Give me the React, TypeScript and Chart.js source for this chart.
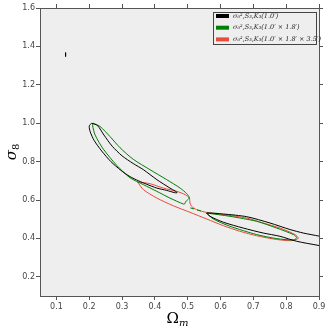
import React, { useEffect, useRef } from 'react';
import { Chart, registerables } from 'chart.js';

Chart.register(...registerables);

// Axis ranges and tick labels
const xMin = 0.05;
const xMax = 0.9;
const yMin = 0.1;
const yMax = 1.6;
const xTicks = [0.1, 0.2, 0.3, 0.4, 0.5, 0.6, 0.7, 0.8, 0.9];
const yTicks = [0.2, 0.4, 0.6, 0.8, 1.0, 1.2, 1.4, 1.6];

// Legend labels
const legendLabels = [
  'σ₀²,S₃,K₃(1.0′)',
  'σ₀²,S₃,K₃(1.0′ × 1.8′)',
  'σ₀²,S₃,K₃(1.0′ × 1.8′ × 3.5′)',
];
const legendColors = ['#000000', '#008000', '#e74c3c'];

// Black contour (1.0') — upper lobe
const blackLobe1Om = [0.207, 0.200, 0.203, 0.215, 0.238, 0.266, 0.296, 0.324, 0.350, 0.375, 0.406, 0.436, 0.461, 0.468, 0.462, 0.446, 0.406, 0.365, 0.334, 0.300, 0.270, 0.245, 0.225, 0.207];
const blackLobe1S8 = [1.000, 0.985, 0.955, 0.910, 0.855, 0.800, 0.755, 0.722, 0.700, 0.682, 0.662, 0.650, 0.638, 0.638, 0.646, 0.662, 0.706, 0.758, 0.790, 0.830, 0.880, 0.938, 0.988, 1.000];
// Black contour — lower lobe (open at the right edge)
const blackLobe2Om = [0.900, 0.852, 0.812, 0.751, 0.680, 0.609, 0.558, 0.568, 0.609, 0.669, 0.730, 0.781, 0.832, 0.900];
const blackLobe2S8 = [0.412, 0.428, 0.446, 0.480, 0.513, 0.527, 0.532, 0.515, 0.484, 0.454, 0.428, 0.411, 0.385, 0.363];
// Black contour — small island
const blackIslandOm = [0.1275, 0.1285, 0.1285, 0.1275, 0.1275];
const blackIslandS8 = [1.347, 1.347, 1.368, 1.368, 1.347];

// Green contour (1.0' x 1.8') — upper lobe
const greenLobe1Om = [0.212, 0.233, 0.263, 0.294, 0.334, 0.385, 0.436, 0.477, 0.497, 0.505, 0.498, 0.493, 0.492, 0.487, 0.446, 0.406, 0.365, 0.324, 0.284, 0.243, 0.218, 0.210, 0.212];
const greenLobe1S8 = [1.000, 0.983, 0.931, 0.872, 0.812, 0.758, 0.706, 0.662, 0.633, 0.612, 0.598, 0.590, 0.582, 0.579, 0.610, 0.645, 0.680, 0.716, 0.780, 0.865, 0.938, 0.990, 1.000];
// Green contour — thin neck
const greenNeckOm = [0.508, 0.545];
const greenNeckS8 = [0.559, 0.540];
// Green contour — lower lobe
const greenLobe2Om = [0.558, 0.629, 0.710, 0.771, 0.822, 0.832, 0.822, 0.771, 0.710, 0.629, 0.578, 0.558];
const greenLobe2S8 = [0.532, 0.515, 0.489, 0.454, 0.420, 0.404, 0.392, 0.399, 0.420, 0.463, 0.501, 0.532];

// Red contour (1.0' x 1.8' x 3.5')
const redOm = [0.347, 0.385, 0.426, 0.467, 0.492, 0.505, 0.507, 0.512, 0.527, 0.558, 0.609, 0.680, 0.730, 0.781, 0.827, 0.837, 0.812, 0.761, 0.710, 0.659, 0.609, 0.558, 0.507, 0.456, 0.406, 0.365, 0.347];
const redS8 = [0.694, 0.685, 0.662, 0.645, 0.628, 0.610, 0.584, 0.567, 0.550, 0.535, 0.524, 0.506, 0.480, 0.454, 0.420, 0.400, 0.388, 0.397, 0.414, 0.437, 0.466, 0.501, 0.536, 0.570, 0.610, 0.654, 0.694];

const pts = (xs: number[], ys: number[]) => xs.map((x, i) => ({ x, y: ys[i] }));

export default function App() {
  const ref = useRef<HTMLCanvasElement>(null);

  useEffect(() => {
    if (!ref.current) return;
    const line = (xs: number[], ys: number[], color: string, extra: any = {}) => ({
      data: pts(xs, ys),
      borderColor: color,
      backgroundColor: color,
      borderWidth: 1,
      pointRadius: 0,
      showLine: true,
      fill: false,
      tension: 0.25,
      ...extra,
    });

    const bgPlugin = {
      id: 'bg',
      beforeDraw(chart: any) {
        const { ctx, chartArea: a } = chart;
        ctx.save();
        ctx.fillStyle = '#eeeeee';
        ctx.fillRect(a.left, a.top, a.right - a.left, a.bottom - a.top);
        ctx.restore();
      },
    };

    const decoPlugin = {
      id: 'deco',
      afterDraw(chart: any) {
        const { ctx, chartArea: a } = chart;
        ctx.save();
        // x title: Omega_m
        ctx.fillStyle = '#000';
        ctx.textBaseline = 'alphabetic';
        ctx.font = '15px "DejaVu Serif"';
        const wO = ctx.measureText('Ω').width;
        ctx.font = 'italic 10px "DejaVu Serif"';
        const wm = ctx.measureText('m').width;
        const cx = (a.left + a.right) / 2 - 2;
        const x0 = cx - (wO + wm) / 2;
        ctx.font = '15px "DejaVu Serif"';
        ctx.fillText('Ω', x0, 323);
        ctx.font = 'italic 10px "DejaVu Serif"';
        ctx.fillText('m', x0 + wO, 326);

        // y title: sigma_8
        ctx.save();
        const cy = (a.top + a.bottom) / 2;
        ctx.translate(16, cy);
        ctx.rotate(-Math.PI / 2);
        ctx.font = 'italic 15px "DejaVu Serif"';
        const ws = ctx.measureText('σ').width;
        ctx.font = '10px "DejaVu Serif"';
        const w8 = ctx.measureText('8').width;
        const y0 = -(ws + w8) / 2;
        ctx.font = 'italic 15px "DejaVu Serif"';
        ctx.fillText('σ', y0, 0);
        ctx.font = '10px "DejaVu Serif"';
        ctx.fillText('8', y0 + ws, 3);
        ctx.restore();

        // legend
        const lx = 213.5, ly = 12.5, lw = 103, lh = 32;
        ctx.fillStyle = '#eeeeee';
        ctx.fillRect(lx, ly, lw, lh);
        ctx.strokeStyle = '#444';
        ctx.lineWidth = 1;
        ctx.strokeRect(lx, ly, lw, lh);
        legendLabels.forEach((lab, i) => {
          const ry = 16 + i * 11.7;
          ctx.fillStyle = legendColors[i];
          ctx.fillRect(216, ry - 2, 13, 4);
          ctx.fillStyle = '#222';
          ctx.font = 'italic 6.5px "DejaVu Serif"';
          ctx.textBaseline = 'middle';
          ctx.fillText(lab, 233, ry);
        });
        ctx.restore();
      },
    };

    const gridOpts = { drawOnChartArea: false, drawTicks: true, tickLength: 4, color: '#555' };
    const borderOpts = { display: true, color: '#555', width: 1 };
    const tickFont = { family: 'DejaVu Sans', size: 8 };

    const chart = new Chart(ref.current, {
      type: 'scatter',
      data: {
        datasets: [
          line(blackLobe1Om, blackLobe1S8, '#000000'),
          line(blackLobe2Om, blackLobe2S8, '#000000'),
          line(blackIslandOm, blackIslandS8, '#000000', { tension: 0 }),
          line(greenLobe1Om, greenLobe1S8, '#008000'),
          line(greenNeckOm, greenNeckS8, '#008000', { borderDash: [4, 3], tension: 0 }),
          line(greenLobe2Om, greenLobe2S8, '#008000'),
          line(redOm, redS8, '#e74c3c'),
        ] as any,
      },
      options: {
        animation: false,
        responsive: false,
        maintainAspectRatio: false,
        layout: { padding: 0 },
        plugins: { legend: { display: false }, tooltip: { enabled: false } },
        scales: {
          x: {
            type: 'linear', position: 'bottom', min: xMin, max: xMax,
            afterBuildTicks: (s: any) => { s.ticks = xTicks.map((v) => ({ value: v })); },
            afterFit: (s: any) => { s.height = 37; },
            ticks: { callback: (v: any) => Number(v).toFixed(1), color: '#444', font: tickFont, padding: 2, maxRotation: 0, autoSkip: false },
            grid: gridOpts, border: borderOpts,
          },
          x2: {
            type: 'linear', position: 'top', min: xMin, max: xMax,
            afterBuildTicks: (s: any) => { s.ticks = xTicks.map((v) => ({ value: v })); },
            afterFit: (s: any) => { s.height = 8; },
            ticks: { display: false },
            grid: gridOpts, border: borderOpts,
          },
          y: {
            type: 'linear', position: 'left', min: yMin, max: yMax,
            afterBuildTicks: (s: any) => { s.ticks = yTicks.map((v) => ({ value: v })); },
            afterFit: (s: any) => { s.width = 40; },
            ticks: { callback: (v: any) => Number(v).toFixed(1), color: '#444', font: tickFont, padding: 1, autoSkip: false },
            grid: gridOpts, border: borderOpts,
          },
          y2: {
            type: 'linear', position: 'right', min: yMin, max: yMax,
            afterBuildTicks: (s: any) => { s.ticks = yTicks.map((v) => ({ value: v })); },
            afterFit: (s: any) => { s.width = 11; },
            ticks: { display: false },
            grid: gridOpts, border: borderOpts,
          },
        },
      } as any,
      plugins: [bgPlugin, decoPlugin],
    });
    return () => chart.destroy();
  }, []);

  return (
    <div style={{ position: 'fixed', left: 0, top: 0, width: 330, height: 333 }}>
      <canvas ref={ref} width={330} height={333} style={{ display: 'block' }} />
    </div>
  );
}
